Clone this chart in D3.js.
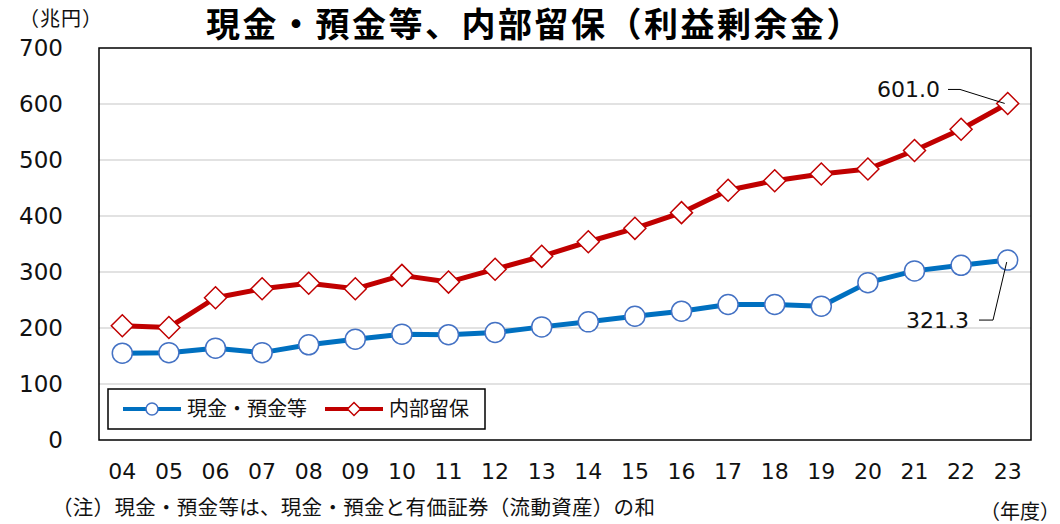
<!DOCTYPE html>
<html>
<head>
<meta charset="utf-8">
<script src="https://cdn.jsdelivr.net/npm/d3@7"></script>
<style>
  body { margin: 0; background: #fff; }
  svg { display: block; }
</style>
</head>
<body>
<svg id="chart" width="1060" height="524"></svg>
<script>
// fiscal years (last two digits)
const years = ['04', '05', '06', '07', '08', '09', '10', '11', '12', '13',
  '14', '15', '16', '17', '18', '19', '20', '21', '22', '23'];

// 現金・預金等 (兆円)
const cashValues = [155, 156, 164, 156, 170, 180, 189, 188, 192, 202,
  211, 221, 230, 242, 242, 239, 281, 302, 312, 321.3];

// 内部留保 (兆円)
const retainedValues = [204, 201, 254, 270, 280, 270, 294, 282, 305, 328,
  354, 378, 406, 446, 463, 475, 484, 517, 555, 601.0];

const yTicks = [0, 100, 200, 300, 400, 500, 600, 700];

const svg = d3.select('#chart');
const numFont = 'DejaVu Sans, Verdana, sans-serif';
const jpFont = '"Noto Sans CJK JP", sans-serif';

// plot area
const plotLeft = 99, plotRight = 1031, plotTop = 48, plotBottom = 440;

const x = d3.scaleBand()
  .domain(years)
  .range([plotLeft, plotRight]);

const y = d3.scaleLinear()
  .domain([0, 700])
  .range([plotBottom, plotTop]);

const cx = d => x(d) + x.bandwidth() / 2;

// gridlines
svg.append('g')
  .selectAll('line')
  .data(yTicks.filter(t => t > 0 && t < 700))
  .enter()
  .append('line')
  .attr('x1', plotLeft)
  .attr('x2', plotRight)
  .attr('y1', d => y(d))
  .attr('y2', d => y(d))
  .attr('stroke', '#d9d9d9')
  .attr('stroke-width', 1.5);

// y axis labels
svg.append('g')
  .selectAll('text')
  .data(yTicks)
  .enter()
  .append('text')
  .attr('x', 63)
  .attr('y', d => y(d))
  .attr('dy', '0.36em')
  .attr('text-anchor', 'end')
  .attr('font-family', numFont)
  .attr('font-size', '23px')
  .attr('fill', '#111')
  .text(d => d);

// x axis labels
svg.append('g')
  .selectAll('text')
  .data(years)
  .enter()
  .append('text')
  .attr('x', d => cx(d))
  .attr('y', 479)
  .attr('text-anchor', 'middle')
  .attr('font-family', numFont)
  .attr('font-size', '22px')
  .attr('fill', '#111')
  .text(d => d);

// lines
const line = d3.line()
  .x((d, i) => cx(years[i]))
  .y(d => y(d));

svg.append('path')
  .datum(cashValues)
  .attr('d', line)
  .attr('fill', 'none')
  .attr('stroke', '#0070C0')
  .attr('stroke-width', 5)
  .attr('stroke-linejoin', 'round');

svg.append('path')
  .datum(retainedValues)
  .attr('d', line)
  .attr('fill', 'none')
  .attr('stroke', '#C00000')
  .attr('stroke-width', 5)
  .attr('stroke-linejoin', 'round');

// markers
svg.append('g')
  .selectAll('circle')
  .data(cashValues)
  .enter()
  .append('circle')
  .attr('cx', (d, i) => cx(years[i]))
  .attr('cy', d => y(d))
  .attr('r', 10)
  .attr('fill', '#fff')
  .attr('stroke', '#4472C4')
  .attr('stroke-width', 1.5);

const diamond = s => `M0,${-s}L${s},0L0,${s}L${-s},0Z`;

svg.append('g')
  .selectAll('path')
  .data(retainedValues)
  .enter()
  .append('path')
  .attr('transform', (d, i) => `translate(${cx(years[i])},${y(d)})`)
  .attr('d', diamond(11))
  .attr('fill', '#fff')
  .attr('stroke', '#C00000')
  .attr('stroke-width', 1.5);

// plot frame
svg.append('rect')
  .attr('x', plotLeft)
  .attr('y', plotTop)
  .attr('width', plotRight - plotLeft)
  .attr('height', plotBottom - plotTop)
  .attr('fill', 'none')
  .attr('stroke', '#000')
  .attr('stroke-width', 1.5);

// value labels with leader lines
const lastX = cx(years[years.length - 1]);
const lastRetained = retainedValues[retainedValues.length - 1];
const lastCash = cashValues[cashValues.length - 1];

svg.append('path')
  .attr('d', `M948,${y(lastRetained) - 14}H960L${lastX - 3},${y(lastRetained)}`)
  .attr('fill', 'none')
  .attr('stroke', '#000')
  .attr('stroke-width', 1);

svg.append('text')
  .attr('x', 940)
  .attr('y', y(lastRetained) - 14)
  .attr('dy', '0.36em')
  .attr('text-anchor', 'end')
  .attr('font-family', numFont)
  .attr('font-size', '22px')
  .attr('fill', '#111')
  .text(lastRetained.toFixed(1));

svg.append('path')
  .attr('d', `M979,${y(lastCash) + 60}H993L${lastX - 1},${y(lastCash) + 2}`)
  .attr('fill', 'none')
  .attr('stroke', '#000')
  .attr('stroke-width', 1);

svg.append('text')
  .attr('x', 969)
  .attr('y', y(lastCash) + 60)
  .attr('dy', '0.36em')
  .attr('text-anchor', 'end')
  .attr('font-family', numFont)
  .attr('font-size', '22px')
  .attr('fill', '#111')
  .text(lastCash.toFixed(1));

// legend
const legend = svg.append('g').attr('class', 'legend');

legend.append('rect')
  .attr('x', 108)
  .attr('y', 389)
  .attr('width', 377)
  .attr('height', 40)
  .attr('fill', '#fff')
  .attr('stroke', '#000')
  .attr('stroke-width', 1.5);

const legendItems = [
  { name: '現金・預金等', color: '#0070C0', marker: '#4472C4', shape: 'circle', x0: 123 },
  { name: '内部留保', color: '#C00000', marker: '#C00000', shape: 'diamond', x0: 325 }
];

legendItems.forEach(item => {
  const ly = 409;
  legend.append('line')
    .attr('x1', item.x0)
    .attr('x2', item.x0 + 58)
    .attr('y1', ly)
    .attr('y2', ly)
    .attr('stroke', item.color)
    .attr('stroke-width', 4);
  if (item.shape === 'circle') {
    legend.append('circle')
      .attr('cx', item.x0 + 29)
      .attr('cy', ly)
      .attr('r', 6)
      .attr('fill', '#fff')
      .attr('stroke', item.marker)
      .attr('stroke-width', 1.5);
  } else {
    legend.append('path')
      .attr('transform', `translate(${item.x0 + 29},${ly})`)
      .attr('d', diamond(6.5))
      .attr('fill', '#fff')
      .attr('stroke', item.marker)
      .attr('stroke-width', 1.5);
  }
  legend.append('text')
    .attr('x', item.x0 + 64)
    .attr('y', ly)
    .attr('dy', '0.36em')
    .attr('font-family', jpFont)
    .attr('font-size', '20px')
    .attr('fill', '#111')
    .text(item.name);
});

// title
svg.append('text')
  .attr('x', 206)
  .attr('y', 37)
  .attr('font-family', jpFont)
  .attr('font-weight', 'bold')
  .attr('font-size', '34px')
  .attr('letter-spacing', '2.5px')
  .attr('fill', '#000')
  .text('現金・預金等、内部留保（利益剰余金）');

// unit
svg.append('text')
  .attr('x', 19)
  .attr('y', 26)
  .attr('font-family', jpFont)
  .attr('font-size', '20px')
  .attr('letter-spacing', '1px')
  .attr('fill', '#111')
  .text('（兆円）');

// note
svg.append('text')
  .attr('x', 52)
  .attr('y', 515)
  .attr('font-family', jpFont)
  .attr('font-size', '20.5px')
  .attr('letter-spacing', '0.3px')
  .attr('fill', '#111')
  .text('（注）現金・預金等は、現金・預金と有価証券（流動資産）の和');

svg.append('text')
  .attr('x', 1060)
  .attr('y', 519)
  .attr('text-anchor', 'end')
  .attr('font-family', jpFont)
  .attr('font-size', '20px')
  .attr('fill', '#111')
  .text('（年度）');
</script>
</body>
</html>
